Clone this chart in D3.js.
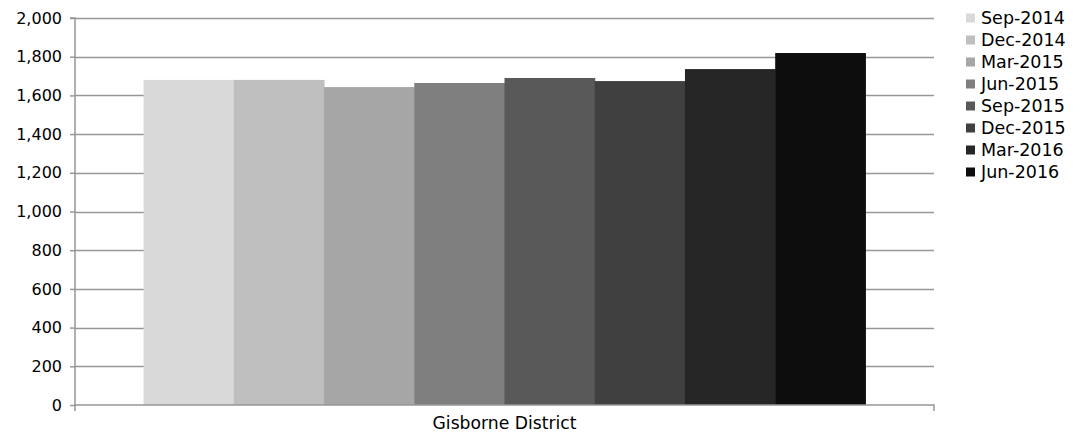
<!DOCTYPE html>
<html><head><meta charset="utf-8">
<script src="https://cdn.jsdelivr.net/npm/d3@7"></script>
<style>body{margin:0;background:#fff}svg{display:block}text{font-family:"DejaVu Sans",Verdana,sans-serif;fill:#000}</style>
</head><body>
<svg id="c" width="1080" height="436"></svg>
<script>
const categories = ["Gisborne District"];
const seriesNames = ["Sep-2014","Dec-2014","Mar-2015","Jun-2015","Sep-2015","Dec-2015","Mar-2016","Jun-2016"];
const seriesValues = [1680,1680,1643,1664,1690,1674,1736,1819];
const seriesColors = ["#d9d9d9","#bfbfbf","#a6a6a6","#7f7f7f","#595959","#404040","#262626","#0d0d0d"];
const yTicks = [0,200,400,600,800,1000,1200,1400,1600,1800,2000];

const svg = d3.select("#c");
const m = {l:75, r:934, t:18, b:405};
const x0 = d3.scaleBand().domain(categories).range([m.l, m.r]).paddingOuter(0.095).paddingInner(0);
const x1 = d3.scaleBand().domain(seriesNames).range([0, x0.bandwidth()]);
const y = d3.scaleLinear().domain([0,2000]).range([m.b, m.t]);
const fmt = d3.format(",");

// gridlines
svg.append("g").selectAll("line").data(yTicks.filter(d=>d>0)).join("line")
  .attr("x1", m.l).attr("x2", m.r).attr("y1", d=>Math.round(y(d))+0.5).attr("y2", d=>Math.round(y(d))+0.5)
  .attr("stroke","#979797").attr("stroke-width",1.5);

// bars
const g = svg.append("g");
categories.forEach(c=>{
  g.selectAll("rect").data(seriesValues).join("rect")
    .attr("x",(d,i)=>x0(c)+x1(seriesNames[i]))
    .attr("width", x1.bandwidth()+0.5)
    .attr("y", d=>y(d)).attr("height", d=>y(0)-y(d))
    .attr("fill",(d,i)=>seriesColors[i]);
});

// y axis
const ya = svg.append("g").attr("transform",`translate(${m.l},0)`)
  .call(d3.axisLeft(y).tickValues(yTicks).tickFormat(fmt).tickSize(5).tickPadding(8));
ya.select(".domain").attr("stroke","#979797").attr("stroke-width",1.5).attr("d",`M-5,${m.t}H0V${m.b}`);
ya.selectAll(".tick line").attr("stroke","#979797").attr("stroke-width",1.5);
ya.selectAll(".tick text").style("font-size","16px").attr("fill","#000");

// x axis
const xa = svg.append("g").attr("transform",`translate(0,${m.b})`)
  .call(d3.axisBottom(x0).tickSize(0).tickPadding(12));
xa.select(".domain").attr("stroke","#979797").attr("stroke-width",1.5).attr("d",`M${m.l},6V0H${m.r}V6`);
xa.selectAll(".tick text").style("font-size","17.2px").attr("fill","#000");

// legend
const lg = svg.append("g").attr("transform","translate(966,18)");
seriesNames.forEach((n,i)=>{
  const r = lg.append("g").attr("transform",`translate(0,${i*22})`);
  r.append("rect").attr("x",0).attr("y",-4.5).attr("width",9).attr("height",9).attr("fill",seriesColors[i]);
  r.append("text").attr("x",15).attr("y",0).attr("dy","0.36em").style("font-size","17.5px").text(n);
});
</script>
</body></html>
